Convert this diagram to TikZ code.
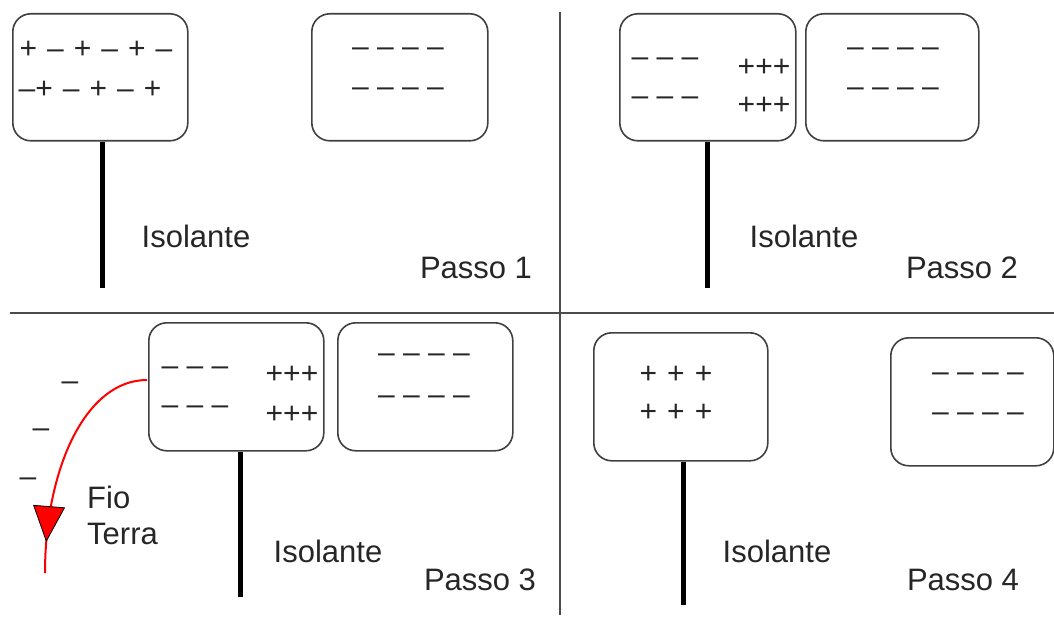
\documentclass[tikz,border=0pt]{standalone}
\usepackage{fontspec}
\setmainfont{Liberation Sans}
\usetikzlibrary{arrows.meta,decorations.markings}
\begin{document}
\begin{tikzpicture}[x=1pt,y=-1pt,
 plate/.style={draw=black!75,line width=1.6pt,rounded corners=18pt,fill=white,anchor=north west,inner sep=0pt},
 chg/.style={font=\fontsize{30}{32}\selectfont,text=black!85,inner sep=0pt},
 lbl/.style={font=\fontsize{31}{36}\selectfont,text=black!85,inner sep=0pt},
 stick/.style={line width=5pt,black},
 divider/.style={draw=black!70,line width=1.2pt},
 wire/.style={red,line width=2pt}]
\useasboundingbox (0,0) rectangle (1054,620);
% dividers
\coordinate (vt) at (560,12); \coordinate (vb) at (560,615);
\coordinate (hl) at (10,313); \coordinate (hr) at (1054,313);
\draw[divider] (vt) -- (vb);
\draw[divider] (hl) -- (hr);

% ---- Passo 1
\node[plate,minimum width=175pt,minimum height=127pt] (a1) at (12,13) {};
\node[plate,minimum width=176pt,minimum height=127pt] (b1) at (311,13) {};
\coordinate (s1) at (102,288);
\draw[stick] (a1.south -| s1) -- (s1);
\node[chg] (a1r1) at (96,50) {+\,\,–\,\,+\,\,–\,\,+\,\,–};
\node[chg] (a1r2) at (90,90) {–+\,\,–\,\,+\,\,–\,\,+};
\node[chg] (b1r1) at (398,52) {– – – –};
\node[chg] (b1r2) at (398,92) {– – – –};
\node[lbl] (i1) at (196,236) {Isolante};
\node[lbl] (p1) at (476,268) {Passo 1};

% ---- Passo 2
\node[plate,minimum width=176pt,minimum height=127pt] (a2) at (619,13) {};
\node[plate,minimum width=173pt,minimum height=127pt] (b2) at (805,13) {};
\coordinate (s2) at (707,288);
\draw[stick] (a2.south -| s2) -- (s2);
\node[chg] (a2m1) at (665,62) {– – –};
\node[chg] (a2m2) at (665,101) {– – –};
\node[chg] (a2p1) at (764,68) {+++};
\node[chg] (a2p2) at (764,106) {+++};
\node[chg] (b2r1) at (893,52) {– – – –};
\node[chg] (b2r2) at (893,92) {– – – –};
\node[lbl] (i2) at (804,236) {Isolante};
\node[lbl] (p2) at (962,268) {Passo 2};

% ---- Passo 3
\node[plate,minimum width=175pt,minimum height=128pt] (a3) at (148,322) {};
\node[plate,minimum width=175pt,minimum height=128pt] (b3) at (337,322) {};
\coordinate (s3) at (240,597);
\draw[stick] (a3.south -| s3) -- (s3);
\node[chg] (a3m1) at (195,371) {– – –};
\node[chg] (a3m2) at (195,410) {– – –};
\node[chg] (a3p1) at (292,375) {+++};
\node[chg] (a3p2) at (292,415) {+++};
\node[chg] (b3r1) at (424,358) {– – – –};
\node[chg] (b3r2) at (424,400) {– – – –};
\node[lbl] (i3) at (328,551) {Isolante};
\node[lbl] (p3) at (480,580) {Passo 3};
\coordinate (w0) at (147,380);
\coordinate (w1) at (45,573);
\draw[wire,postaction={decorate},decoration={markings,mark=at position 0.87 with {\arrow{Triangle[length=36pt,width=32pt,color=black,fill=red,line width=0.8pt]}}}]
  (w0) .. controls (85,380) and (45,470) .. (w1);
\node[chg] (e1) at (70,386) {–};
\node[chg] (e2) at (41,433) {–};
\node[chg] (e3) at (28,482) {–};
\node[lbl,anchor=west] (fio) at (87,497) {Fio};
\node[lbl,anchor=west] (terra) at (87,534) {Terra};

% ---- Passo 4
\node[plate,minimum width=174pt,minimum height=128pt] (a4) at (593,332) {};
\node[plate,minimum width=163pt,minimum height=128pt] (b4) at (890,337) {};
\coordinate (s4) at (683,605);
\draw[stick] (a4.south -| s4) -- (s4);
\node[chg] (a4r1) at (676,375) {+\,\,+\,\,+};
\node[chg] (a4r2) at (676,413) {+\,\,+\,\,+};
\node[chg] (b4r1) at (978,377) {– – – –};
\node[chg] (b4r2) at (978,417) {– – – –};
\node[lbl] (i4) at (777,551) {Isolante};
\node[lbl] (p4) at (963,580) {Passo 4};
\end{tikzpicture}
\end{document}
